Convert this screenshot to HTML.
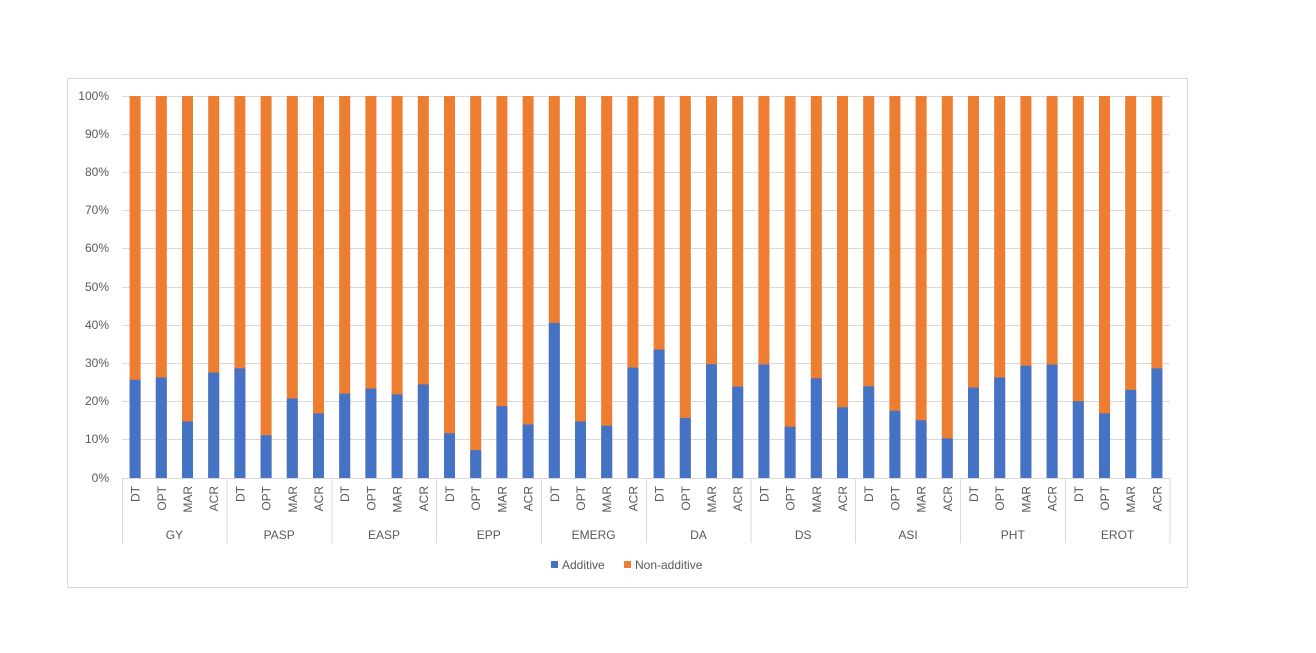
<!DOCTYPE html>
<html><head><meta charset="utf-8"><style>body{margin:0;background:#fff}svg{display:block}.o{fill:#ED7D31}.b{fill:#4472C4}.gl{stroke:#d9d9d9}</style></head><body>
<svg width="1316" height="653" xmlns="http://www.w3.org/2000/svg" font-family="Liberation Sans, sans-serif" font-size="12" fill="#595959">
<rect x="67.5" y="78.5" width="1120" height="509" fill="#fff" stroke="#d9d9d9"/>
<g class="gl">
<line x1="122" x2="1170" y1="96.5" y2="96.5"/><line x1="122" x2="1170" y1="134.5" y2="134.5"/><line x1="122" x2="1170" y1="172.5" y2="172.5"/><line x1="122" x2="1170" y1="210.5" y2="210.5"/><line x1="122" x2="1170" y1="248.5" y2="248.5"/><line x1="122" x2="1170" y1="287.5" y2="287.5"/><line x1="122" x2="1170" y1="325.5" y2="325.5"/><line x1="122" x2="1170" y1="363.5" y2="363.5"/><line x1="122" x2="1170" y1="401.5" y2="401.5"/><line x1="122" x2="1170" y1="439.5" y2="439.5"/><line x1="122" x2="1170" y1="478.5" y2="478.5"/>
<line x1="122.5" x2="122.5" y1="478" y2="543"/><line x1="227" x2="227" y1="478" y2="543"/><line x1="332" x2="332" y1="478" y2="543"/><line x1="436.5" x2="436.5" y1="478" y2="543"/><line x1="541.5" x2="541.5" y1="478" y2="543"/><line x1="646.5" x2="646.5" y1="478" y2="543"/><line x1="751" x2="751" y1="478" y2="543"/><line x1="855.5" x2="855.5" y1="478" y2="543"/><line x1="960.5" x2="960.5" y1="478" y2="543"/><line x1="1065.5" x2="1065.5" y1="478" y2="543"/><line x1="1170" x2="1170" y1="478" y2="543"/>
</g>
<g text-anchor="end">
<text x="109" y="100">100%</text><text x="109" y="138">90%</text><text x="109" y="176">80%</text><text x="109" y="214">70%</text><text x="109" y="252">60%</text><text x="109" y="291">50%</text><text x="109" y="329">40%</text><text x="109" y="367">30%</text><text x="109" y="405">20%</text><text x="109" y="443">10%</text><text x="109" y="482">0%</text>
</g>
<g text-anchor="middle">
<text x="174.4" y="539">GY</text><text x="279.2" y="539">PASP</text><text x="384" y="539">EASP</text><text x="488.8" y="539">EPP</text><text x="593.6" y="539">EMERG</text><text x="698.4" y="539">DA</text><text x="803.2" y="539">DS</text><text x="908" y="539">ASI</text><text x="1012.8" y="539">PHT</text><text x="1117.6" y="539">EROT</text>
</g>
<g text-anchor="end">
<g transform="translate(129.6,0)"><rect class="o" y="96" width="11" height="382"/><rect class="b" y="379.8" width="11" height="98.2"/><text transform="translate(10,486) rotate(-90)">DT</text></g>
<g transform="translate(155.8,0)"><rect class="o" y="96" width="11" height="382"/><rect class="b" y="377.5" width="11" height="100.5"/><text transform="translate(10,486) rotate(-90)">OPT</text></g>
<g transform="translate(182,0)"><rect class="o" y="96" width="11" height="382"/><rect class="b" y="421.5" width="11" height="56.5"/><text transform="translate(10,486) rotate(-90)">MAR</text></g>
<g transform="translate(208.2,0)"><rect class="o" y="96" width="11" height="382"/><rect class="b" y="372.6" width="11" height="105.4"/><text transform="translate(10,486) rotate(-90)">ACR</text></g>
<g transform="translate(234.4,0)"><rect class="o" y="96" width="11" height="382"/><rect class="b" y="368.4" width="11" height="109.6"/><text transform="translate(10,486) rotate(-90)">DT</text></g>
<g transform="translate(260.6,0)"><rect class="o" y="96" width="11" height="382"/><rect class="b" y="435.2" width="11" height="42.8"/><text transform="translate(10,486) rotate(-90)">OPT</text></g>
<g transform="translate(286.8,0)"><rect class="o" y="96" width="11" height="382"/><rect class="b" y="398.5" width="11" height="79.5"/><text transform="translate(10,486) rotate(-90)">MAR</text></g>
<g transform="translate(313,0)"><rect class="o" y="96" width="11" height="382"/><rect class="b" y="413.4" width="11" height="64.6"/><text transform="translate(10,486) rotate(-90)">ACR</text></g>
<g transform="translate(339.2,0)"><rect class="o" y="96" width="11" height="382"/><rect class="b" y="393.6" width="11" height="84.4"/><text transform="translate(10,486) rotate(-90)">DT</text></g>
<g transform="translate(365.4,0)"><rect class="o" y="96" width="11" height="382"/><rect class="b" y="388.6" width="11" height="89.4"/><text transform="translate(10,486) rotate(-90)">OPT</text></g>
<g transform="translate(391.6,0)"><rect class="o" y="96" width="11" height="382"/><rect class="b" y="394.3" width="11" height="83.7"/><text transform="translate(10,486) rotate(-90)">MAR</text></g>
<g transform="translate(417.8,0)"><rect class="o" y="96" width="11" height="382"/><rect class="b" y="384.4" width="11" height="93.6"/><text transform="translate(10,486) rotate(-90)">ACR</text></g>
<g transform="translate(444,0)"><rect class="o" y="96" width="11" height="382"/><rect class="b" y="433.3" width="11" height="44.7"/><text transform="translate(10,486) rotate(-90)">DT</text></g>
<g transform="translate(470.2,0)"><rect class="o" y="96" width="11" height="382"/><rect class="b" y="450.1" width="11" height="27.9"/><text transform="translate(10,486) rotate(-90)">OPT</text></g>
<g transform="translate(496.4,0)"><rect class="o" y="96" width="11" height="382"/><rect class="b" y="406.2" width="11" height="71.8"/><text transform="translate(10,486) rotate(-90)">MAR</text></g>
<g transform="translate(522.6,0)"><rect class="o" y="96" width="11" height="382"/><rect class="b" y="424.5" width="11" height="53.5"/><text transform="translate(10,486) rotate(-90)">ACR</text></g>
<g transform="translate(548.8,0)"><rect class="o" y="96" width="11" height="382"/><rect class="b" y="322.9" width="11" height="155.1"/><text transform="translate(10,486) rotate(-90)">DT</text></g>
<g transform="translate(575,0)"><rect class="o" y="96" width="11" height="382"/><rect class="b" y="421.5" width="11" height="56.5"/><text transform="translate(10,486) rotate(-90)">OPT</text></g>
<g transform="translate(601.2,0)"><rect class="o" y="96" width="11" height="382"/><rect class="b" y="425.7" width="11" height="52.3"/><text transform="translate(10,486) rotate(-90)">MAR</text></g>
<g transform="translate(627.4,0)"><rect class="o" y="96" width="11" height="382"/><rect class="b" y="367.6" width="11" height="110.4"/><text transform="translate(10,486) rotate(-90)">ACR</text></g>
<g transform="translate(653.6,0)"><rect class="o" y="96" width="11" height="382"/><rect class="b" y="349.6" width="11" height="128.4"/><text transform="translate(10,486) rotate(-90)">DT</text></g>
<g transform="translate(679.8,0)"><rect class="o" y="96" width="11" height="382"/><rect class="b" y="418" width="11" height="60"/><text transform="translate(10,486) rotate(-90)">OPT</text></g>
<g transform="translate(706,0)"><rect class="o" y="96" width="11" height="382"/><rect class="b" y="364.2" width="11" height="113.8"/><text transform="translate(10,486) rotate(-90)">MAR</text></g>
<g transform="translate(732.2,0)"><rect class="o" y="96" width="11" height="382"/><rect class="b" y="386.7" width="11" height="91.3"/><text transform="translate(10,486) rotate(-90)">ACR</text></g>
<g transform="translate(758.4,0)"><rect class="o" y="96" width="11" height="382"/><rect class="b" y="364.5" width="11" height="113.5"/><text transform="translate(10,486) rotate(-90)">DT</text></g>
<g transform="translate(784.6,0)"><rect class="o" y="96" width="11" height="382"/><rect class="b" y="426.8" width="11" height="51.2"/><text transform="translate(10,486) rotate(-90)">OPT</text></g>
<g transform="translate(810.8,0)"><rect class="o" y="96" width="11" height="382"/><rect class="b" y="378.3" width="11" height="99.7"/><text transform="translate(10,486) rotate(-90)">MAR</text></g>
<g transform="translate(837,0)"><rect class="o" y="96" width="11" height="382"/><rect class="b" y="407.3" width="11" height="70.7"/><text transform="translate(10,486) rotate(-90)">ACR</text></g>
<g transform="translate(863.2,0)"><rect class="o" y="96" width="11" height="382"/><rect class="b" y="386.3" width="11" height="91.7"/><text transform="translate(10,486) rotate(-90)">DT</text></g>
<g transform="translate(889.4,0)"><rect class="o" y="96" width="11" height="382"/><rect class="b" y="410.8" width="11" height="67.2"/><text transform="translate(10,486) rotate(-90)">OPT</text></g>
<g transform="translate(915.6,0)"><rect class="o" y="96" width="11" height="382"/><rect class="b" y="420.3" width="11" height="57.7"/><text transform="translate(10,486) rotate(-90)">MAR</text></g>
<g transform="translate(941.8,0)"><rect class="o" y="96" width="11" height="382"/><rect class="b" y="438.3" width="11" height="39.7"/><text transform="translate(10,486) rotate(-90)">ACR</text></g>
<g transform="translate(968,0)"><rect class="o" y="96" width="11" height="382"/><rect class="b" y="387.5" width="11" height="90.5"/><text transform="translate(10,486) rotate(-90)">DT</text></g>
<g transform="translate(994.2,0)"><rect class="o" y="96" width="11" height="382"/><rect class="b" y="377.5" width="11" height="100.5"/><text transform="translate(10,486) rotate(-90)">OPT</text></g>
<g transform="translate(1020.4,0)"><rect class="o" y="96" width="11" height="382"/><rect class="b" y="365.7" width="11" height="112.3"/><text transform="translate(10,486) rotate(-90)">MAR</text></g>
<g transform="translate(1046.6,0)"><rect class="o" y="96" width="11" height="382"/><rect class="b" y="364.5" width="11" height="113.5"/><text transform="translate(10,486) rotate(-90)">ACR</text></g>
<g transform="translate(1072.8,0)"><rect class="o" y="96" width="11" height="382"/><rect class="b" y="401.2" width="11" height="76.8"/><text transform="translate(10,486) rotate(-90)">DT</text></g>
<g transform="translate(1099,0)"><rect class="o" y="96" width="11" height="382"/><rect class="b" y="413.4" width="11" height="64.6"/><text transform="translate(10,486) rotate(-90)">OPT</text></g>
<g transform="translate(1125.2,0)"><rect class="o" y="96" width="11" height="382"/><rect class="b" y="389.8" width="11" height="88.2"/><text transform="translate(10,486) rotate(-90)">MAR</text></g>
<g transform="translate(1151.4,0)"><rect class="o" y="96" width="11" height="382"/><rect class="b" y="368.4" width="11" height="109.6"/><text transform="translate(10,486) rotate(-90)">ACR</text></g>
</g>
<rect x="551" y="561" width="7" height="7" class="b"/><text x="562" y="569">Additive</text>
<rect x="624" y="561" width="7" height="7" class="o"/><text x="635" y="569">Non-additive</text>
</svg>
</body></html>
